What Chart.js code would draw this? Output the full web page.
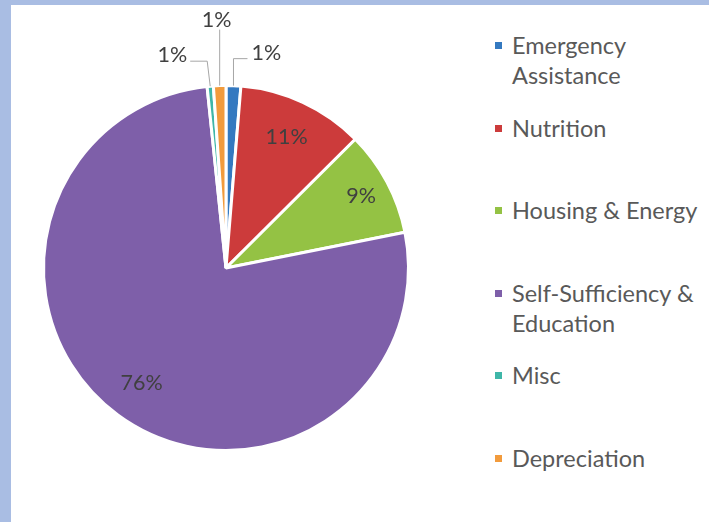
<!DOCTYPE html>
<html>
<head>
<meta charset="utf-8">
<script src="https://cdn.jsdelivr.net/npm/chart.js@4.4.1/dist/chart.umd.min.js"></script>
<style>
  html, body { margin: 0; padding: 0; }
  body {
    width: 709px; height: 522px; position: relative; overflow: hidden;
    background: #a9bde3; font-family: Lato, "Open Sans", sans-serif;
  }
  .sheet { position: absolute; left: 11px; top: 5px; right: 0; bottom: 0; background: #fff; }
  #chartBox { position: absolute; left: 0; top: 0; width: 460px; height: 522px; }
  .legend-item { position: absolute; left: 495px; color: #595959; font-size: 23.5px; line-height: 30px; }
  .legend-item .box { position: absolute; left: 0; top: 12px; width: 7px; height: 7px; }
  .legend-item .txt { position: absolute; left: 17px; top: 0; white-space: nowrap; }
</style>
</head>
<body>
<div class="sheet"></div>
<div id="chartBox"><canvas id="pieChart"></canvas></div>
<div id="legend"></div>

<script>
// ===========================
// Data
// ===========================
const categories = ["Emergency Assistance", "Nutrition", "Housing & Energy", "Self-Sufficiency & Education", "Misc", "Depreciation"];
const legendLines = [["Emergency", "Assistance"], ["Nutrition"], ["Housing & Energy"], ["Self-Sufficiency &", "Education"], ["Misc"], ["Depreciation"]];
const shares = [1.3, 11.2, 9.3, 76.3, 0.55, 1.1];
const sliceColors = ["#3479c0", "#cc3b3b", "#94c244", "#7e5fa9", "#3fb6a8", "#f29b3c"];

// ===========================
// Legend (html, right side)
// ===========================
const legendEl = document.getElementById("legend");
legendLines.forEach(function (lines, i) {
    const item = document.createElement("div");
    item.className = "legend-item";
    item.style.top = (30 + i * 82.6) + "px";
    const box = document.createElement("span");
    box.className = "box";
    box.style.background = sliceColors[i];
    const txt = document.createElement("span");
    txt.className = "txt";
    txt.innerHTML = lines.join("<br>");
    item.appendChild(box);
    item.appendChild(txt);
    legendEl.appendChild(item);
});

// ===========================
// Percentage labels on the pie
// ===========================
const pieLabels = {
    id: "pieLabels",
    afterDatasetsDraw(chart, args, opts) {
        const ctx = chart.ctx;
        const meta = chart.getDatasetMeta(0);
        const values = chart.data.datasets[0].data;
        const total = values.reduce((a, b) => a + b, 0);
        ctx.save();
        ctx.font = opts.font;
        ctx.fillStyle = opts.color;
        ctx.strokeStyle = opts.lineColor;
        ctx.lineWidth = 1;
        meta.data.forEach(function (arc, i) {
            const p = arc.getProps(["x", "y", "startAngle", "endAngle", "outerRadius"], true);
            const mid = (p.startAngle + p.endAngle) / 2;
            const text = Math.round(values[i] / total * 100) + "%";
            const place = opts.placement[i];
            if (place.inside) {
                const r = p.outerRadius * place.r;
                ctx.textAlign = "center";
                ctx.textBaseline = "middle";
                ctx.fillText(text, p.x + Math.cos(mid) * r, p.y + Math.sin(mid) * r);
                return;
            }
            // leader line for the thin slices
            const ax = p.x + Math.cos(mid) * p.outerRadius;
            const ay = p.y + Math.sin(mid) * p.outerRadius;
            const bx = ax + place.bend;
            const by = ay - place.rise;
            const ex = bx + place.run;
            ctx.beginPath();
            ctx.moveTo(ax, ay);
            ctx.lineTo(bx, by);
            ctx.lineTo(ex, by);
            ctx.stroke();
            if (place.run > 0) {
                ctx.textAlign = "left";
                ctx.textBaseline = "middle";
                ctx.fillText(text, ex + 4, by - 6);
            } else if (place.run < 0) {
                ctx.textAlign = "right";
                ctx.textBaseline = "middle";
                ctx.fillText(text, ex - 3, by - 6);
            } else {
                ctx.textAlign = "center";
                ctx.textBaseline = "bottom";
                ctx.fillText(text, ex - 3, by + 1);
            }
        });
        ctx.restore();
    }
};

// ===========================
// Chart
// ===========================
const canvas = document.getElementById("pieChart");
new Chart(canvas.getContext("2d"), {
    type: "pie",
    data: {
        labels: categories,
        datasets: [{
            data: shares,
            backgroundColor: sliceColors,
            borderColor: "#ffffff",
            borderWidth: 3
        }]
    },
    options: {
        responsive: true,
        maintainAspectRatio: false,
        animation: false,
        events: [],
        layout: { padding: { left: 42, right: 50, top: 84, bottom: 70 } },
        plugins: {
            legend: { display: false },
            tooltip: { enabled: false },
            pieLabels: {
                font: "21.5px Lato, 'Open Sans', sans-serif",
                color: "#404040",
                lineColor: "#a6a6a6",
                placement: [
                    { rise: 27, bend: 0, run: 14 },
                    { inside: true, r: 0.79 },
                    { inside: true, r: 0.84 },
                    { inside: true, r: 0.78 },
                    { rise: 25, bend: -3, run: -17 },
                    { rise: 56, bend: 0, run: 0 }
                ]
            }
        }
    },
    plugins: [pieLabels]
});
</script>
</body>
</html>
